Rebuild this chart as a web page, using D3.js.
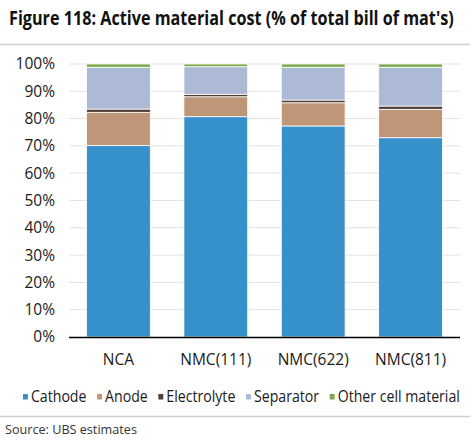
<!DOCTYPE html>
<html lang="en">
<head>
<meta charset="utf-8">
<title>Active material cost</title>
<style>
  body { margin: 0; background: #fff; }
  text { font-family: "Open Sans", "Noto Sans", sans-serif; fill: #1a1a1a; }
</style>
</head>
<body>
<script src="https://cdn.jsdelivr.net/npm/d3@7"></script>
<script>
// data
var categories = ["NCA", "NMC(111)", "NMC(622)", "NMC(811)"];
var seriesNames = ["Cathode", "Anode", "Electrolyte", "Separator", "Other cell material"];
var cathode = [70.1, 80.7, 77.3, 73.0];
var anode = [12.2, 7.3, 8.5, 10.4];
var electrolyte = [1.2, 0.9, 1.0, 1.2];
var separator = [15.3, 10.1, 12.0, 14.2];
var other = [1.2, 1.0, 1.2, 1.2];
var yTicks = [0, 10, 20, 30, 40, 50, 60, 70, 80, 90, 100];
var colors = ["#3690CA", "#BF9677", "#4F3E38", "#ADBAD6", "#7BA84A"];

var W = 474, H = 441;
var plotLeft = 69, plotRight = 460, plotTop = 64, plotBottom = 337;

var rows = categories.map(function(c, i) {
    return { cat: c, Cathode: cathode[i], Anode: anode[i], Electrolyte: electrolyte[i],
             Separator: separator[i], "Other cell material": other[i] };
});

var svg = d3.select("body").append("svg")
    .attr("width", W)
    .attr("height", H);

// squeeze a text group horizontally to a target width
function fitWidth(g, x0, y0, target) {
    var w = g.node().getBBox().width;
    g.attr("transform", "translate(" + x0 + "," + y0 + ") scale(" + (target / w) + ",1)");
}

// title
var titleG = svg.append("g");
titleG.append("text")
    .attr("x", 0).attr("y", 0)
    .style("font-size", "19px").style("font-weight", "bold").style("fill", "#111")
    .text("Figure 118: Active material cost (% of total bill of mat's)");
fitWidth(titleG, 9, 25, 445);
svg.append("line")
    .attr("x1", 0).attr("x2", 470).attr("y1", 44.5).attr("y2", 44.5)
    .attr("stroke", "#cfcfcf").attr("stroke-width", 1.5);

var x = d3.scaleBand().domain(categories).range([plotLeft, plotRight]).paddingInner(0.345).paddingOuter(0.18);
var y = d3.scaleLinear().domain([0, 100]).range([plotBottom, plotTop]);

// gridlines
svg.append("g").selectAll("line")
    .data(yTicks.filter(function(d) { return d > 0; }))
    .enter().append("line")
    .attr("x1", plotLeft).attr("x2", plotRight)
    .attr("y1", function(d) { return y(d); }).attr("y2", function(d) { return y(d); })
    .attr("stroke", "#e3e3e3").attr("stroke-width", 1);

// y axis labels
var yAxis = d3.axisLeft(y).tickValues(yTicks).tickSize(0).tickPadding(14)
    .tickFormat(function(d) { return d + "%"; });
var gy = svg.append("g").attr("transform", "translate(" + plotLeft + ",0)").call(yAxis);
gy.select(".domain").remove();
gy.selectAll("text").style("font-size", "15.5px").style("font-family", "\"Open Sans\", sans-serif").attr("fill", "#1a1a1a");

// stacked bars
var stack = d3.stack().keys(seriesNames)(rows);
svg.append("g").selectAll("g")
    .data(stack)
    .enter().append("g")
    .attr("fill", function(d, i) { return colors[i]; })
    .selectAll("rect")
    .data(function(d) { return d; })
    .enter().append("rect")
    .attr("x", function(d) { return x(d.data.cat); })
    .attr("width", x.bandwidth())
    .attr("y", function(d) { return y(d[1]); })
    .attr("height", function(d) { return y(d[0]) - y(d[1]); })
    .attr("stroke", "#fff").attr("stroke-width", 0.8);

// x axis
var xAxis = d3.axisBottom(x).tickSize(0).tickPadding(17);
var gx = svg.append("g").attr("transform", "translate(0," + plotBottom + ")").call(xAxis);
gx.select(".domain").attr("stroke", "#000").attr("stroke-width", 1.5)
    .attr("d", "M" + plotLeft + ",0.5H" + plotRight);
gx.selectAll("text").style("font-size", "15.5px").style("font-family", "\"Open Sans\", sans-serif").attr("fill", "#1a1a1a");

// legend
var legend = svg.append("g");
var lx = 0;
seriesNames.forEach(function(name, i) {
    var g = legend.append("g").attr("transform", "translate(" + lx + ",0)");
    g.append("rect").attr("x", 0).attr("y", -8).attr("width", 5.5).attr("height", 5.5).attr("fill", colors[i]);
    var t = g.append("text").attr("x", 9).attr("y", 0)
        .style("font-size", "16px").text(name);
    var tw = t.node().getComputedTextLength();
    lx += 9 + tw + 12;
});
// fit legend width to reference span (23..460)
fitWidth(legend, 23, 402, 437);

svg.append("line")
    .attr("x1", 0).attr("x2", 470).attr("y1", 416.5).attr("y2", 416.5)
    .attr("stroke", "#cfcfcf").attr("stroke-width", 1.5);

var srcG = svg.append("g");
srcG.append("text")
    .attr("x", 0).attr("y", 0)
    .style("font-size", "13px").style("fill", "#333")
    .text("Source:  UBS estimates");
fitWidth(srcG, 5, 434, 132);
</script>
</body>
</html>
